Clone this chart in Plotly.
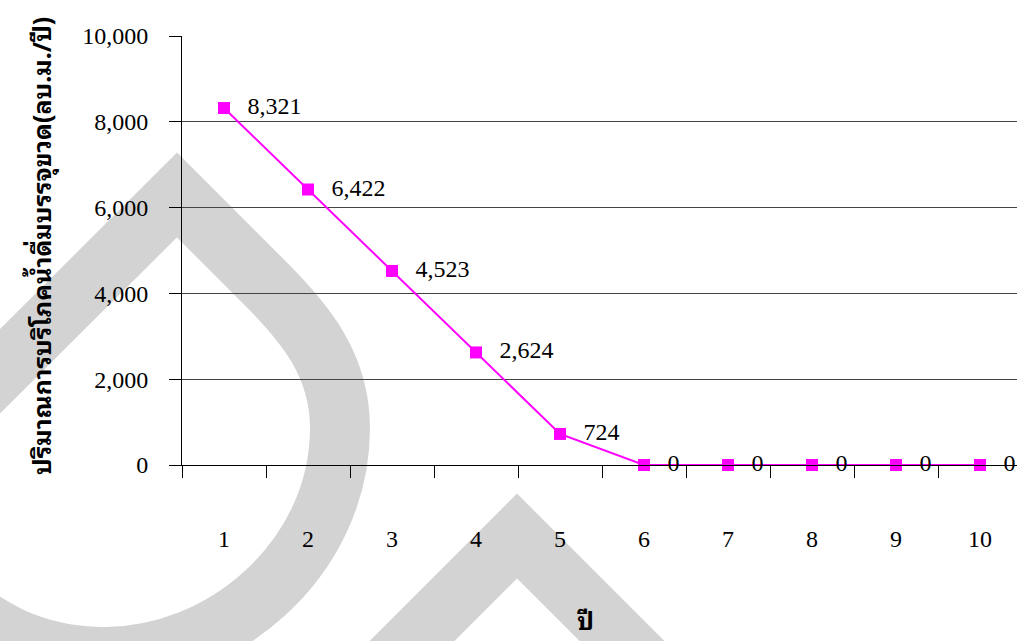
import plotly.graph_objects as go

# ---- data ----
years = [1, 2, 3, 4, 5, 6, 7, 8, 9, 10]
consumption = [8321, 6422, 4523, 2624, 724, 0, 0, 0, 0, 0]
y_ticks = [0, 2000, 4000, 6000, 8000, 10000]
y_title = "ปริมาณการบริโภคน้ำดื่มบรรจุขวด(ลบ.ม./ปี)"
x_title = "ปี"

W, H = 1017, 641
L, R, T, B = 182, 0, 36, 176
PW, PH = W - L - R, H - T - B

SERIF = "Liberation Serif, Times New Roman, serif"
THAI = ("Noto Sans Thai Looped, Noto Serif Thai, Loma, Norasi, Kinnari, Garuda, "
        "Tahoma, Noto Sans Thai, Noto Sans, DejaVu Sans, sans-serif")

fig = go.Figure()
fig.add_trace(go.Scatter(
    x=years, y=consumption,
    mode="lines+markers",
    line=dict(color="#FF00FF", width=2),
    marker=dict(symbol="square", size=12, color="#FF00FF"),
    cliponaxis=False,
    showlegend=False,
    hoverinfo="skip",
))
# value labels (transparent wide markers push the text off the point)
fig.add_trace(go.Scatter(
    x=years, y=consumption,
    mode="markers+text",
    marker=dict(symbol="square", size=36, color="rgba(0,0,0,0)"),
    texttemplate="%{y:,}",
    textposition="middle right",
    textfont=dict(family=SERIF, size=24, color="black"),
    cliponaxis=False,
    showlegend=False,
))


# watermark (decorative), pixel -> paper conversion
def px(xp, yp):
    return f"{(xp - L) / PW:.4f},{(H - B - yp) / PH:.4f}"


wm1 = (f"M {px(-60, 431)} L {px(177, 195)} L {px(265, 283)} "
       f"C {px(305, 323)} {px(340, 365)} {px(340, 428)} "
       f"C {px(340, 560)} {px(220, 660)} {px(100, 657)} "
       f"C {px(30, 655)} {px(-10, 630)} {px(-60, 590)}")
wm2 = f"M {px(357, 696)} L {px(517, 536)} L {px(677, 696)}"
shapes = []
for p in (wm1, wm2):
    shapes.append(dict(type="path", path=p, xref="paper", yref="paper",
                       line=dict(color="#d3d3d3", width=60),
                       fillcolor="rgba(0,0,0,0)", layer="below"))

fig.update_layout(
    width=W, height=H,
    margin=dict(l=L, r=R, t=T, b=B, pad=0),
    paper_bgcolor="white",
    plot_bgcolor="rgba(0,0,0,0)",
    shapes=shapes,
    xaxis=dict(
        range=[0.5, 0.5 + PW / 84.0],
        tickvals=years, ticktext=[str(v) for v in years],
        ticks="", ticklabelstandoff=52,
        tickfont=dict(family=SERIF, size=24, color="black"),
        showline=True, linecolor="black", linewidth=1,
        showgrid=False, zeroline=False,
        minor=dict(tick0=0.5, dtick=1, ticks="outside", ticklen=12,
                   tickcolor="black", tickwidth=1, showgrid=False),
    ),
    yaxis=dict(
        range=[0, 10000],
        tickvals=y_ticks, tickformat=",",
        ticks="outside", ticklen=12, tickcolor="black", tickwidth=1,
        ticklabelstandoff=16,
        tickfont=dict(family=SERIF, size=24, color="black"),
        showline=True, linecolor="black", linewidth=1,
        showgrid=True, gridcolor="#444444", gridwidth=1,
        zeroline=False,
    ),
    annotations=[
        dict(text=y_title, xref="paper", yref="paper",
             x=(40 - L) / PW, y=(H - B - 246) / PH, textangle=-90,
             showarrow=False, xanchor="center", yanchor="middle",
             font=dict(family=THAI, size=25, color="black", weight="bold")),
        dict(text=x_title, xref="paper", yref="paper",
             x=(585 - L) / PW, y=(H - B - 619) / PH,
             showarrow=False, xanchor="center", yanchor="middle",
             font=dict(family=THAI, size=25, color="black", weight="bold")),
    ],
)

fig.write_html("out.html")
